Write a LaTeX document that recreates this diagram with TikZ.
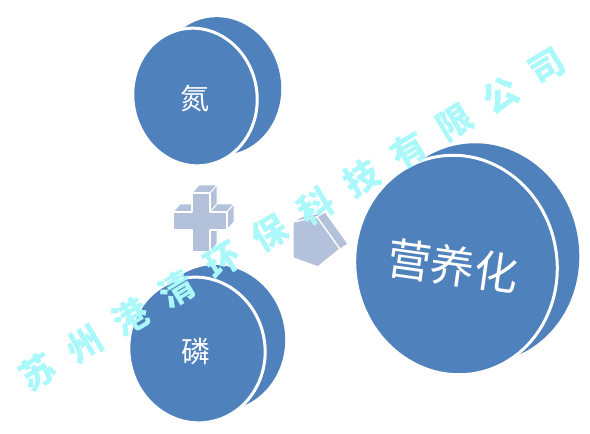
\documentclass[tikz,border=0pt]{standalone}
\usepackage{fontspec}
\newfontfamily\cjk{Noto Sans CJK SC}
\definecolor{discblue}{RGB}{79,129,189}
\definecolor{plusgray}{RGB}{180,193,219}
\definecolor{wmcyan}{RGB}{170,248,250}
\begin{document}
\begin{tikzpicture}[x=1pt,y=-1pt,
  backdisc/.style={fill=discblue},
  frontdisc/.style={fill=discblue,draw=white,line width=3pt},
  lbl/.style={text=white,font=\cjk\fontsize{29}{29}\selectfont,inner sep=0pt},
  biglbl/.style={text=white,font=\cjk\fontsize{44}{44}\selectfont,inner sep=0pt},
  wm/.style={text=wmcyan,font=\cjk\bfseries\fontsize{35}{35}\selectfont,inner sep=0pt},
  side3d/.style={fill=plusgray,draw=white,line width=0.9pt,line join=round},
  front3d/.style={fill=plusgray,draw=white,line width=1.4pt,line join=round}]
\useasboundingbox (0,0) rectangle (590,434);

% top disc (N)
\fill[backdisc,shift={(219,86)},rotate=10] (0,0) ellipse [x radius=62pt,y radius=69pt];
\draw[frontdisc,shift={(195,97)},rotate=10] (0,0) ellipse [x radius=62pt,y radius=69pt];
\node[lbl] (nitrogen) at (195,99) {氮};

% bottom disc (P)
\fill[backdisc,shift={(217,338)},rotate=10] (0,0) ellipse [x radius=68pt,y radius=73pt];
\draw[frontdisc,shift={(197,350)},rotate=10] (0,0) ellipse [x radius=68pt,y radius=73pt];
\node[lbl] (phosphorus) at (196,352) {磷};

% big disc
\fill[backdisc,shift={(478,253)},rotate=10] (0,0) ellipse [x radius=101pt,y radius=110pt];
\draw[frontdisc,shift={(456,265)},rotate=10] (0,0) ellipse [x radius=101pt,y radius=110pt];
\node[biglbl,rotate=-8] (eutro) at (453,266) {营养化};

% plus sign
\coordinate (pA) at (192,193); \coordinate (pB) at (210,193);
\coordinate (pC) at (210,212); \coordinate (pD) at (227,212);
\coordinate (pE) at (227,230); \coordinate (pF) at (210,230);
\coordinate (pG) at (210,252); \coordinate (pH) at (192,252);
\coordinate (pI) at (192,230); \coordinate (pJ) at (173,230);
\coordinate (pK) at (173,212); \coordinate (pL) at (192,212);
\foreach \p/\q in {pA/pB,pB/pC,pC/pD,pD/pE,pF/pG,pK/pL}
  \draw[side3d] (\p) -- (\q) -- ([shift={(7,-8)}]\q) -- ([shift={(7,-8)}]\p) -- cycle;
\draw[front3d] (pA) -- (pB) -- (pC) -- (pD) -- (pE) -- (pF) -- (pG) -- (pH) -- (pI) -- (pJ) -- (pK) -- (pL) -- cycle;

% arrow
\coordinate (a1) at (293,222); \coordinate (a2) at (317,217);
\coordinate (a3) at (340,249); \coordinate (a4) at (318,267);
\coordinate (a5) at (293,258);
\foreach \p/\q in {a1/a2,a2/a3}
  \draw[side3d] (\p) -- (\q) -- ([shift={(8,-5)}]\q) -- ([shift={(8,-5)}]\p) -- cycle;
\draw[front3d] (a1) -- (a2) -- (a3) -- (a4) -- (a5) -- cycle;

% watermark
\foreach \c [count=\i from 0] in {苏,州,港,清,环,保,科,技,有,限,公,司}
  \node[wm,rotate=31] (wm\i) at ({38+46.3*\i},{372-27.7*\i}) {\c};
\end{tikzpicture}
\end{document}
